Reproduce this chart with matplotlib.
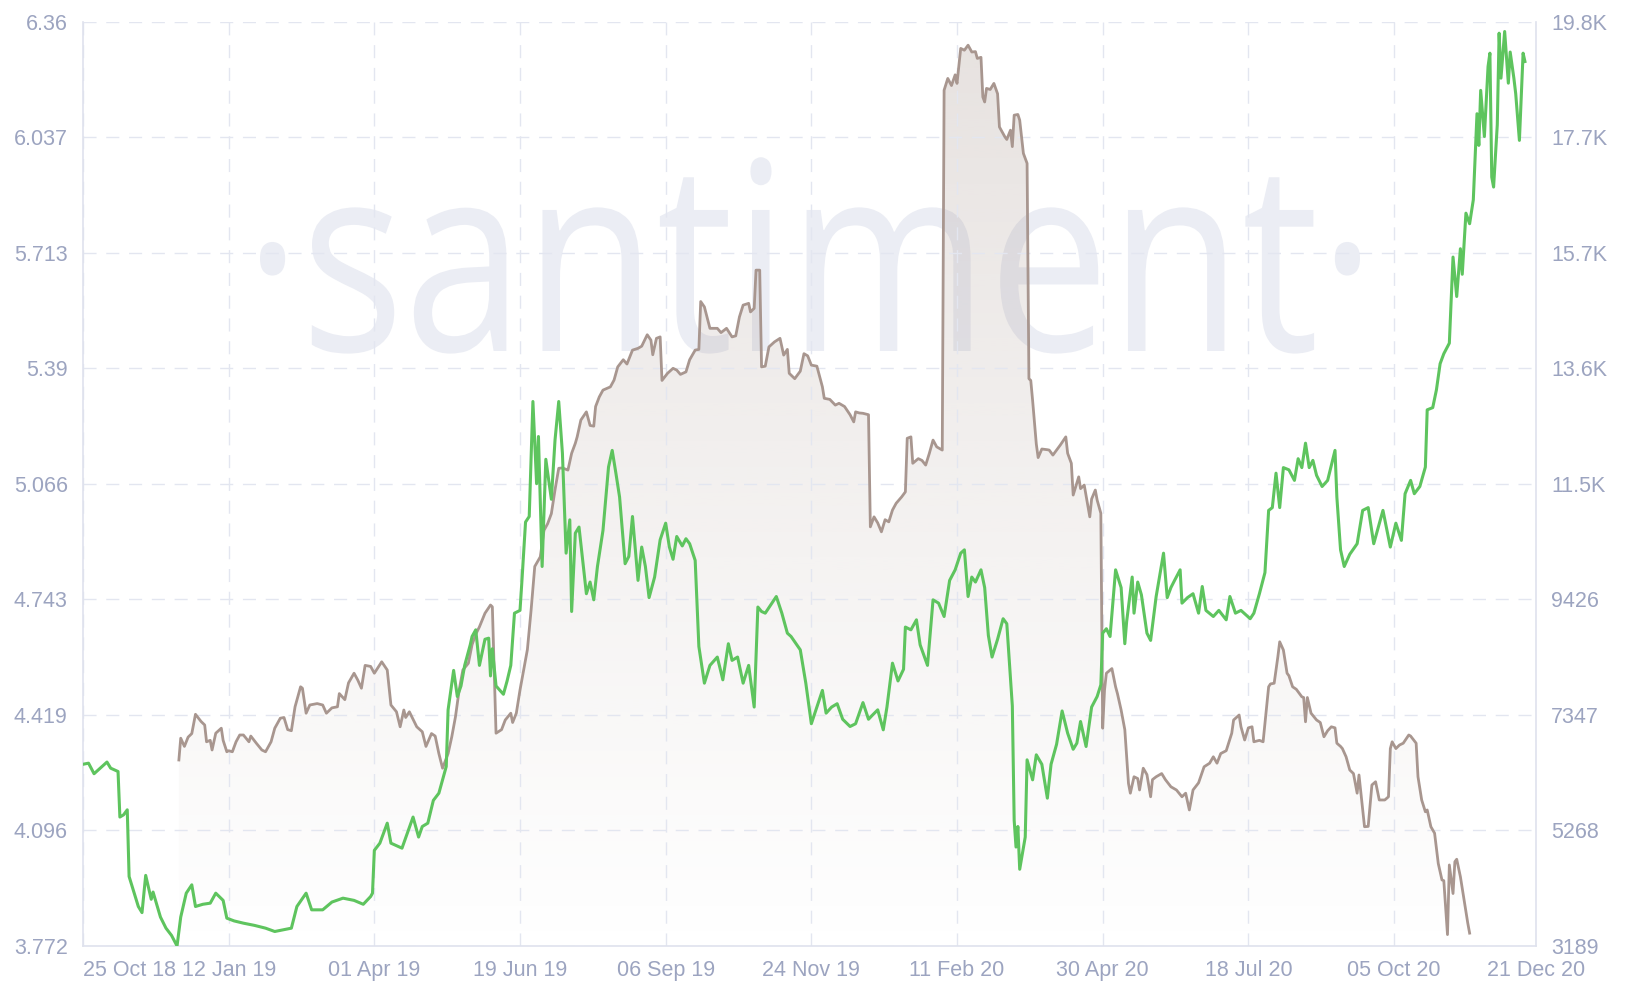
import numpy as np
import pandas as pd
import matplotlib
matplotlib.use("Agg")
import matplotlib.pyplot as plt
import matplotlib.transforms as mtransforms
from matplotlib.textpath import TextPath
from matplotlib.font_manager import FontProperties
from matplotlib.patches import PathPatch, Polygon

start = pd.Timestamp("2018-10-25")

# BTC price (right axis), days since 25 Oct 2018
btc_days = [
    0, 3, 6, 8, 13, 15, 19, 20, 22, 24,
    25, 30, 32, 34, 37, 38, 42, 45, 48, 51,
    53, 56, 59, 61, 65, 69, 72, 76, 78, 82,
    87, 93, 99, 104, 110, 113, 116, 121, 124, 130,
    135, 141, 147, 152, 156, 157, 158, 161, 165, 167,
    173, 179, 182, 184, 187, 190, 193, 197, 198, 201,
    203, 205, 207, 210, 211, 213, 215, 218, 220, 221,
    222, 224, 228, 230, 232, 234, 237, 238, 240, 242,
    244, 246, 247, 249, 251, 254, 256, 258, 260, 262,
    264, 265, 267, 269, 273, 275, 277, 279, 282, 285,
    287, 289, 291, 294, 296, 298, 301, 303, 305, 307,
    310, 313, 316, 318, 320, 322, 325, 327, 329, 332,
    334, 337, 340, 344, 347, 350, 352, 355, 358, 361,
    364, 366, 368, 370, 373, 376, 379, 382, 384, 389,
    392, 395, 398, 401, 403, 406, 409, 412, 416, 419,
    423, 426, 428, 431, 434, 436, 439, 442, 445, 446,
    449, 452, 454, 458, 461, 464, 467, 470, 473, 476,
    478, 480, 482, 484, 487, 489, 491, 493, 496, 499,
    501, 503, 504, 505, 506, 507, 508, 511, 512, 515,
    517, 520, 523, 525, 528, 531, 534, 537, 539, 541,
    544, 547, 550, 552, 553, 555, 557, 560, 563, 565,
    566, 569, 570, 572, 574, 577, 579, 582, 586, 588,
    590, 592, 595, 596, 599, 602, 605, 607, 609, 613,
    616, 620, 622, 625, 628, 633, 635, 638, 641, 643,
    645, 647, 649, 651, 654, 657, 659, 661, 663, 665,
    667, 669, 672, 675, 679, 680, 682, 684, 687, 691,
    694, 697, 700, 702, 705, 709, 712, 715, 717, 720,
    722, 725, 728, 729, 732, 734, 736, 738, 741, 743,
    745, 747, 748, 750, 752, 754, 756, 757, 758, 760,
    762, 763, 764, 765, 767, 768, 769, 771, 773, 774,
    776, 777, 779, 781, 782,
]
btc_price = [
    6460, 6480, 6290, 6350, 6500, 6390, 6330, 5510, 5550, 5640,
    4440, 3900, 3790, 4460, 4030, 4160, 3710, 3510, 3380, 3190,
    3710, 4140, 4290, 3900, 3940, 3960, 4140, 4010, 3690, 3640,
    3600, 3560, 3510, 3450, 3490, 3510, 3900, 4140, 3840, 3840,
    3980, 4050, 4010, 3940, 4080, 4140, 4910, 5040, 5400, 5040,
    4950, 5510, 5150, 5340, 5400, 5810, 5940, 6420, 7440, 8150,
    7680, 7870, 8240, 8610, 8760, 8880, 8240, 8710, 8730, 8050,
    8540, 7870, 7720, 7960, 8240, 9180, 9230, 9740, 10820, 10920,
    12990, 11510, 12360, 10020, 11950, 11230, 12300, 12990, 12060, 10260,
    10860, 9210, 10620, 10730, 9530, 9740, 9420, 10020, 10670, 11810,
    12110, 11700, 11270, 10070, 10200, 10920, 9770, 10370, 10020, 9460,
    9830, 10500, 10800, 10370, 10150, 10560, 10390, 10520, 10430, 10130,
    8580, 7920, 8240, 8390, 7980, 8630, 8330, 8390, 7920, 8240,
    7490, 9290, 9210, 9180, 9330, 9480, 9180, 8820, 8760, 8520,
    7920, 7190, 7490, 7790, 7380, 7490, 7550, 7270, 7140, 7190,
    7570, 7270, 7340, 7440, 7080, 7490, 8280, 7960, 8170, 8930,
    8880, 9060, 8610, 8240, 9420, 9360, 9120, 9770, 9960, 10260,
    10320, 9480, 9830, 9740, 9960, 9640, 8780, 8390, 8710, 9080,
    8990, 8000, 7510, 5450, 4970, 5340, 4570, 5150, 6540, 6180,
    6630, 6460, 5850, 6460, 6820, 7420, 7020, 6730, 6840, 7230,
    6780, 7490, 7680, 7890, 8820, 8900, 8760, 9960, 9640, 8630,
    9030, 9830, 9180, 9740, 9510, 8820, 8690, 9480, 10260, 9460,
    9640, 9770, 9960, 9360, 9460, 9530, 9180, 9660, 9230, 9120,
    9230, 9060, 9480, 9180, 9230, 9080, 9180, 9530, 9910, 11030,
    11080, 11700, 11080, 11800, 11760, 11570, 11960, 11800, 12240, 11800,
    11930, 11660, 11460, 11570, 12110, 11270, 10320, 10020, 10240, 10430,
    11030, 11080, 10430, 10670, 11030, 10370, 10800, 10490, 11330, 11570,
    11330, 11460, 11810, 12840, 12880, 13200, 13670, 13850, 14040, 15590,
    14880, 15740, 15280, 16380, 16190, 16620, 18170, 17600, 18590, 17760,
    19020, 19260, 17030, 16850, 17970, 19620, 18810, 19650, 18720, 19280,
    18810, 18530, 17690, 19260, 19110,
]

# metric (left axis), days since 25 Oct 2018
metric_days = [
    52, 53, 55, 57, 59, 61, 64, 66, 67, 69,
    70, 72, 75, 76, 78, 79, 81, 83, 85, 87,
    90, 91, 94, 97, 99, 102, 104, 107, 109, 111,
    113, 115, 118, 119, 121, 123, 127, 130, 132, 135,
    138, 139, 142, 144, 147, 149, 151, 153, 156, 158,
    162, 165, 167, 170, 172, 174, 175, 177, 179, 181,
    184, 186, 189, 191, 193, 195, 198, 200, 202, 204,
    206, 209, 211, 213, 215, 218, 221, 222, 224, 227,
    229, 232, 233, 235, 237, 239, 241, 242, 243, 245,
    248, 250, 252, 254, 256, 258, 260, 263, 265, 267,
    268, 270, 273, 275, 277, 278, 280, 282, 286, 288,
    290, 293, 295, 298, 301, 303, 306, 308, 309, 311,
    313, 314, 317, 320, 322, 324, 327, 329, 332, 334,
    335, 337, 340, 344, 346, 349, 352, 354, 356, 358,
    361, 362, 364, 365, 367, 368, 370, 372, 375, 378,
    380, 382, 383, 386, 389, 391, 393, 395, 398, 401,
    402, 405, 408, 410, 413, 416, 418, 419, 421, 423,
    426, 427, 429, 431, 433, 435, 437, 439, 441, 444,
    446, 447, 449, 450, 453, 455, 457, 459, 461, 463,
    466, 467, 469, 471, 473, 474, 476, 478, 480, 482,
    484, 485, 487, 488, 489, 490, 492, 494, 496, 497,
    500, 501, 503, 504, 505, 507, 508, 510, 512, 513,
    514, 515, 517, 518, 520, 523, 524, 526, 528, 530,
    532, 533, 534, 536, 537, 540, 541, 543, 546, 547,
    549, 550, 552, 553, 554, 555, 558, 560, 561, 563,
    565, 567, 568, 570, 572, 573, 575, 577, 579, 580,
    582, 585, 587, 590, 593, 596, 598, 600, 602, 605,
    608, 611, 613, 615, 617, 620, 623, 624, 627, 628,
    630, 632, 634, 635, 638, 640, 643, 644, 646, 648,
    649, 651, 653, 654, 656, 658, 661, 662, 663, 664,
    666, 669, 671, 673, 675, 677, 679, 680, 682, 683,
    685, 687, 689, 691, 692, 695, 697, 699, 701, 703,
    706, 708, 709, 710, 712, 714, 716, 719, 720, 723,
    724, 726, 728, 729, 731, 733, 735, 737, 738, 740,
    741, 743, 744, 745, 747, 749, 751, 752,
]
metric_value = [
    4.293, 4.354, 4.331, 4.357, 4.367, 4.421, 4.401, 4.391, 4.344, 4.348,
    4.321, 4.368, 4.382, 4.348, 4.316, 4.319, 4.316, 4.344, 4.363, 4.363,
    4.344, 4.360, 4.340, 4.321, 4.316, 4.344, 4.382, 4.410, 4.412, 4.378,
    4.375, 4.442, 4.498, 4.494, 4.424, 4.447, 4.451, 4.447, 4.424, 4.439,
    4.442, 4.479, 4.462, 4.509, 4.536, 4.517, 4.494, 4.558, 4.555, 4.536,
    4.568, 4.545, 4.447, 4.428, 4.386, 4.433, 4.412, 4.428, 4.407, 4.386,
    4.372, 4.331, 4.367, 4.360, 4.311, 4.270, 4.311, 4.358, 4.414, 4.489,
    4.545, 4.564, 4.616, 4.645, 4.666, 4.704, 4.727, 4.722, 4.368, 4.378,
    4.405, 4.424, 4.398, 4.424, 4.489, 4.545, 4.602, 4.657, 4.712, 4.835,
    4.862, 4.936, 4.955, 4.983, 5.050, 5.110, 5.111, 5.105, 5.152, 5.180,
    5.198, 5.245, 5.268, 5.230, 5.228, 5.283, 5.310, 5.329, 5.338, 5.357,
    5.394, 5.414, 5.402, 5.441, 5.446, 5.452, 5.484, 5.469, 5.428, 5.474,
    5.478, 5.356, 5.376, 5.390, 5.385, 5.373, 5.380, 5.414, 5.441, 5.443,
    5.577, 5.562, 5.502, 5.502, 5.490, 5.502, 5.478, 5.481, 5.534, 5.567,
    5.572, 5.548, 5.558, 5.665, 5.665, 5.394, 5.396, 5.450, 5.464, 5.474,
    5.427, 5.443, 5.376, 5.361, 5.382, 5.431, 5.425, 5.399, 5.396, 5.338,
    5.306, 5.303, 5.287, 5.292, 5.283, 5.260, 5.240, 5.268, 5.265, 5.264,
    5.260, 4.946, 4.974, 4.957, 4.932, 4.966, 4.960, 4.993, 5.012, 5.030,
    5.044, 5.194, 5.198, 5.124, 5.137, 5.132, 5.119, 5.152, 5.189, 5.170,
    5.161, 6.169, 6.202, 6.182, 6.212, 6.188, 6.286, 6.281, 6.295, 6.276,
    6.277, 6.258, 6.261, 6.150, 6.136, 6.174, 6.171, 6.188, 6.159, 6.066,
    6.038, 6.031, 6.057, 6.011, 6.099, 6.101, 6.085, 5.992, 5.964, 5.361,
    5.356, 5.300, 5.178, 5.140, 5.164, 5.162, 5.161, 5.147, 5.161, 5.175,
    5.190, 5.198, 5.152, 5.124, 5.035, 5.086, 5.053, 5.063, 4.974, 5.024,
    5.049, 5.021, 4.984, 4.382, 4.489, 4.536, 4.549, 4.498, 4.479, 4.433,
    4.378, 4.227, 4.200, 4.246, 4.241, 4.209, 4.270, 4.252, 4.190, 4.238,
    4.246, 4.255, 4.238, 4.218, 4.209, 4.190, 4.200, 4.153, 4.209, 4.229,
    4.274, 4.284, 4.302, 4.284, 4.311, 4.319, 4.368, 4.405, 4.419, 4.386,
    4.349, 4.383, 4.386, 4.344, 4.348, 4.344, 4.498, 4.506, 4.508, 4.582,
    4.624, 4.601, 4.536, 4.529, 4.498, 4.491, 4.470, 4.468, 4.400, 4.468,
    4.424, 4.405, 4.398, 4.358, 4.375, 4.386, 4.383, 4.340, 4.331, 4.325,
    4.302, 4.265, 4.255, 4.200, 4.251, 4.106, 4.107, 4.223, 4.232, 4.181,
    4.181, 4.190, 4.325, 4.344, 4.325, 4.335, 4.340, 4.363, 4.360, 4.340,
    4.246, 4.181, 4.148, 4.153, 4.106, 4.088, 4.003, 3.957, 3.955, 3.804,
    3.999, 3.919, 4.008, 4.015, 3.966, 3.901, 3.836, 3.808,
]

tick_dates = ["2018-10-25", "2019-01-12", "2019-04-01", "2019-06-19", "2019-09-06",
              "2019-11-24", "2020-02-11", "2020-04-30", "2020-07-18", "2020-10-05",
              "2020-12-21"]
tick_labels = ["25 Oct 18", "12 Jan 19", "01 Apr 19", "19 Jun 19", "06 Sep 19",
               "24 Nov 19", "11 Feb 20", "30 Apr 20", "18 Jul 20", "05 Oct 20",
               "21 Dec 20"]
left_ticks = [3.772, 4.096, 4.419, 4.743, 5.066, 5.39, 5.713, 6.037, 6.36]
left_labels = ["3.772", "4.096", "4.419", "4.743", "5.066", "5.39", "5.713", "6.037", "6.36"]
right_ticks = [3189, 5268, 7347, 9426, 11505, 13584, 15663, 17742, 19821]
right_labels = ["3189", "5268", "7347", "9426", "11.5K", "13.6K", "15.7K", "17.7K", "19.8K"]

tick_days = [(pd.Timestamp(d) - start).days for d in tick_dates]

green = "#5ec45e"
brown = "#a8968f"
label_color = "#9ca4c0"
grid_color = "#e3e6f0"
spine_color = "#dfe2ed"

plt.rcParams["font.family"] = ["Liberation Sans", "DejaVu Sans"]

fig = plt.figure(figsize=(16.3, 10), dpi=100)
ax = fig.add_axes([83 / 1630, 54 / 1000, (1536 - 83) / 1630, (946 - 22) / 1000])
ax.set_xlim(tick_days[0], tick_days[-1])
ax.set_ylim(left_ticks[0], left_ticks[-1])

# watermark
wm = TextPath((0, 0), "\u00b7santiment\u00b7", size=1, prop=FontProperties(family="Open Sans"))
ext = wm.get_extents()
sy = 141 / 0.535
sx = 1100 / (ext.x1 - ext.x0)
wm_tr = mtransforms.Affine2D().scale(sx, sy).translate(260 - ext.x0 * sx, 1000 - 351)
ax.add_patch(PathPatch(wm, transform=wm_tr, facecolor="#ebedf4", edgecolor="none", zorder=0.8))

# gradient fill under the metric
verts = [(metric_days[0], left_ticks[0])] + list(zip(metric_days, metric_value)) + \
        [(metric_days[-1], left_ticks[0])]
clip = Polygon(verts, closed=True, facecolor="none", edgecolor="none", transform=ax.transData)
ax.add_patch(clip)
grad = np.zeros((256, 1, 4))
grad[:, 0, 0] = 168 / 255
grad[:, 0, 1] = 150 / 255
grad[:, 0, 2] = 142 / 255
grad[:, 0, 3] = np.linspace(0.0, 0.28, 256)
im = ax.imshow(grad, extent=[tick_days[0], tick_days[-1], left_ticks[0], left_ticks[-1]],
               origin="lower", aspect="auto", zorder=1, interpolation="bilinear")
im.set_clip_path(clip)

ax.plot(metric_days, metric_value, color=brown, lw=2.0, zorder=2, solid_joinstyle="round")

ax.set_xticks(tick_days)
ax.set_xticklabels(tick_labels)
ax.set_yticks(left_ticks)
ax.set_yticklabels(left_labels)
ax.grid(True, color=grid_color, lw=1.0, dashes=(9.4, 7.0))
ax.tick_params(length=0, labelsize=15.5, colors=label_color)
ax.tick_params(axis="y", pad=11)
ax.tick_params(axis="x", pad=10)
ax.get_xticklabels()[0].set_ha("left")

for side in ["top", "right"]:
    ax.spines[side].set_visible(False)
for side in ["left", "bottom"]:
    ax.spines[side].set_color(spine_color)
    ax.spines[side].set_linewidth(1.2)

ax2 = ax.twinx()
ax2.set_ylim(right_ticks[0], right_ticks[-1])
ax2.plot(btc_days, btc_price, color=green, lw=2.2, zorder=3, solid_joinstyle="round")
ax2.set_yticks(right_ticks)
ax2.set_yticklabels(right_labels)
ax2.tick_params(length=0, labelsize=15.5, colors=label_color, pad=11)
for side in ["top", "left", "bottom"]:
    ax2.spines[side].set_visible(False)
ax2.spines["right"].set_color(spine_color)
ax2.spines["right"].set_linewidth(1.2)

fig.savefig("out.png", dpi=100, facecolor="white")
